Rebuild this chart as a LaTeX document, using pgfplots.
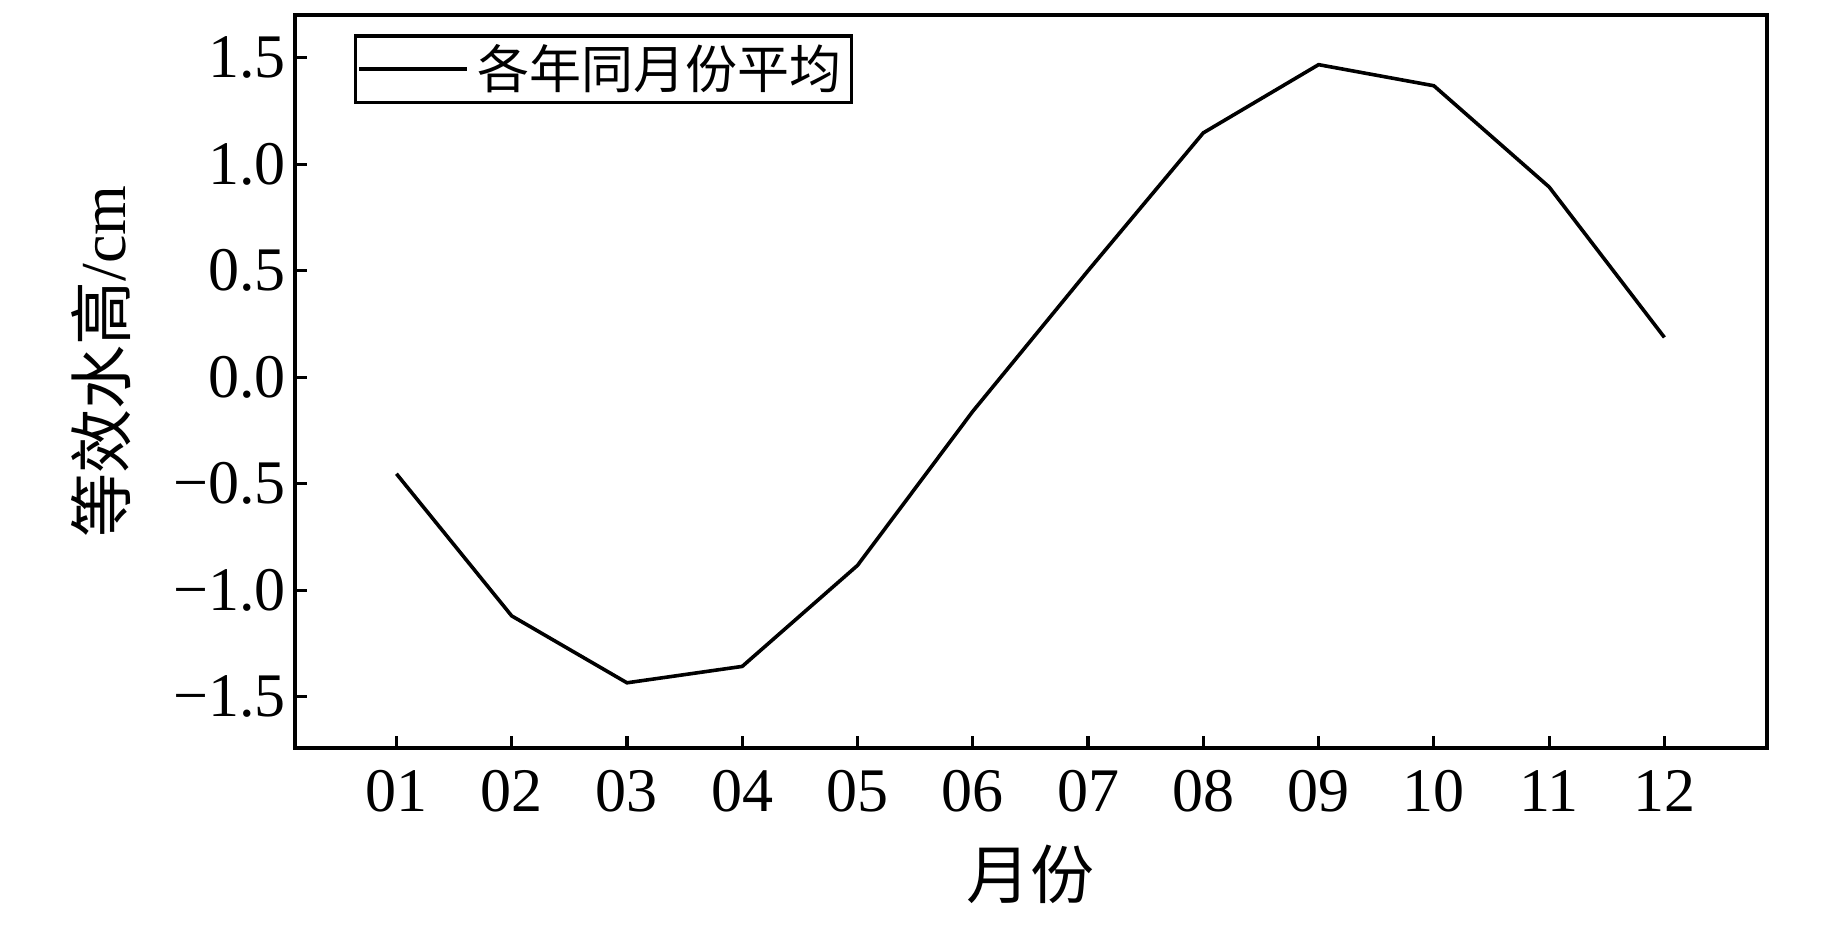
\documentclass[border=0pt]{standalone}
\usepackage{fontspec}
\setmainfont{Liberation Serif}
\newfontfamily\cjk{Noto Sans CJK SC}
\usepackage{pgfplots}
\pgfplotsset{compat=1.18}

\begin{document}
\begin{tikzpicture}
  \begin{axis}[
    name=ax,
    scale only axis,
    width=368pt, height=183.25pt,
    xmin=0.12, xmax=12.89,
    ymin=-1.74, ymax=1.70,
    axis line style={line width=1.1pt},
    tick align=inside,
    xtick pos=bottom, ytick pos=left,
    major tick length=3pt,
    tick style={line width=0.8pt, black},
    xtick={1,...,12},
    xticklabels={01,02,03,04,05,06,07,08,09,10,11,12},
    ytick={-1.5,-1,-0.5,0,0.5,1,1.5},
    yticklabels={−1.5,−1.0,−0.5,0.0,0.5,1.0,1.5},
    tick label style={font=\fontsize{15.5}{15.5}\selectfont},
    xticklabel style={yshift=-2pt},
    yticklabel style={xshift=1.2pt},
    xlabel={\cjk 月份},
    ylabel={{\cjk 等效水高}/cm},
    label style={font=\fontsize{16}{16}\selectfont},
    xlabel style={yshift=-1.5pt},
    ylabel style={yshift=3.8pt, xshift=5pt},
    legend style={at={(0.040,0.9735)}, anchor=north west,
      draw=black, line width=0.8pt, inner xsep=0.5pt, inner ysep=0pt,
      font=\fontsize{13}{13}\selectfont\cjk},
    legend cell align=left,
    legend image code/.code={\draw[#1, line width=1pt] (0pt,0pt) -- (27pt,0pt);},
  ]
    \addplot[black, line width=0.9pt] coordinates {
      (1,-0.453) (2,-1.120) (3,-1.434) (4,-1.357) (5,-0.883) (6,-0.160)
      (7,0.500) (8,1.147) (9,1.467) (10,1.368) (11,0.893) (12,0.187)
    };
    \addlegendentry{各年同月份平均}
  \end{axis}
  \pgfresetboundingbox
  \path[use as bounding box] ([xshift=-73.75pt,yshift=-44pt]ax.south west)
    rectangle ([xshift=19pt,yshift=3.75pt]ax.north east);
\end{tikzpicture}
\end{document}
